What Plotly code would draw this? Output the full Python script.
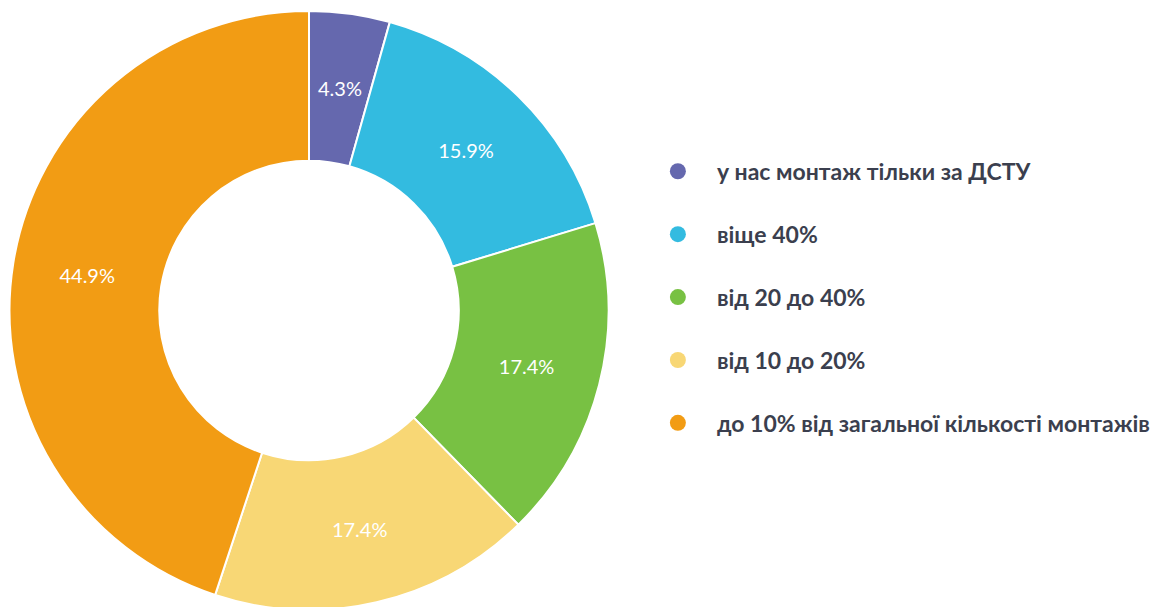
import math
import plotly.graph_objects as go

labels = ["у нас монтаж тільки за ДСТУ", "віще 40%", "від 20 до 40%", "від 10 до 20%",
          "до 10% від загальної кількості монтажів"]
counts = [3, 11, 12, 12, 31]
colors = ["#6568ae", "#33bbe0", "#78c143", "#f8d775", "#f29c14"]

W, H = 1167, 607
M_T, M_B = 3, 5
HOLE = 0.5
dom_x = [1.5 / W, 600.5 / W]

total = sum(counts)
# small first slice: label placed at mid-ring via annotation (as in reference)
templates = [""] + ["%{percent:.1%}"] * (len(counts) - 1)

fig = go.Figure()
fig.add_trace(go.Pie(
    labels=labels, values=counts, hole=HOLE, sort=False, direction="clockwise",
    rotation=0, marker=dict(colors=colors, line=dict(color="white", width=2)),
    texttemplate=templates, textposition="inside",
    insidetextorientation="horizontal",
    textfont=dict(family="Lato", size=20, color="white"),
    showlegend=False, domain=dict(x=dom_x, y=[0, 1]),
))

# annotation for the first slice at the middle of the ring
ph = H - M_T - M_B
r_px = min((dom_x[1] - dom_x[0]) * W, ph) / 2
mid_r = r_px * (1 + HOLE) / 2
ang = math.radians(90 - 360 * (counts[0] / 2) / total)
cx = (dom_x[0] + dom_x[1]) / 2
fig.add_annotation(
    x=cx + mid_r * math.cos(ang) / W, y=0.5 + mid_r * math.sin(ang) / ph,
    xref="paper", yref="paper", showarrow=False,
    xanchor="center", yanchor="middle",
    text=f"{100 * counts[0] / total:.1f}%",
    font=dict(family="Lato", size=20, color="white"),
)

for i, (lab, col) in enumerate(zip(labels, colors)):
    fig.add_trace(go.Scatter(
        x=[None], y=[None], mode="markers", name=lab, legendgroup=str(i),
        marker=dict(color=col, size=16, symbol="circle"),
    ))
fig.update_layout(
    width=W, height=H,
    margin=dict(l=0, r=0, t=M_T, b=M_B),
    paper_bgcolor="white", plot_bgcolor="white",
    xaxis=dict(visible=False, domain=[0.6, 1]), yaxis=dict(visible=False),
    legend=dict(x=0.5406, y=0.522, xanchor="left", yanchor="middle",
                tracegroupgap=30, traceorder="grouped", itemwidth=68,
                font=dict(family="Lato", size=23, color="#3b3f4e", weight="bold")),
)
fig.write_html("out.html")
